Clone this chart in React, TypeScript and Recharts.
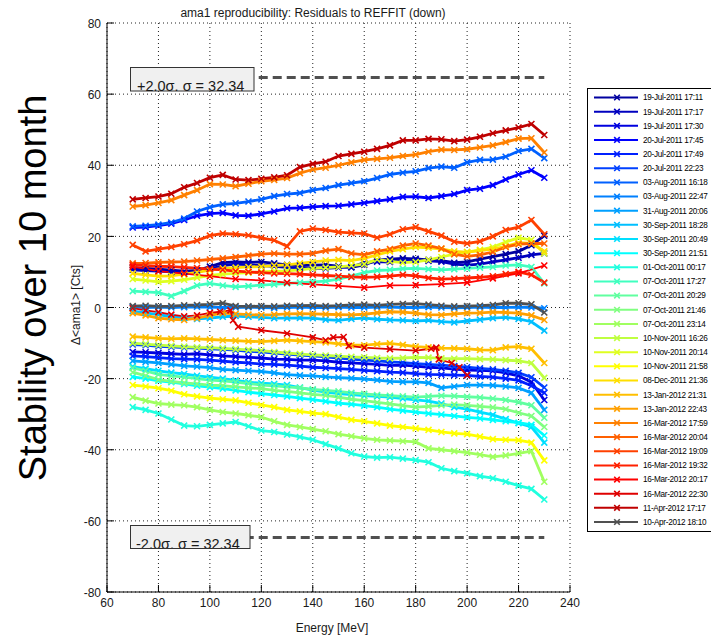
import { CartesianGrid, Legend, Line, LineChart, ReferenceLine, XAxis, YAxis } from 'recharts'

document.body.style.margin = '0'

const FONT = '"Liberation Sans", Arial, Helvetica, sans-serif'

// common energy grid of the scans [MeV]
const energy = [70, 75, 80, 85, 90, 95, 100, 105, 110, 115, 120, 125, 130, 135, 140, 145, 150, 155, 160, 165, 170, 175, 180, 185, 190, 195, 200, 205, 210, 215, 220, 225, 230]

const xTicks = [60, 80, 100, 120, 140, 160, 180, 200, 220, 240]
const yTicks = [-80, -60, -40, -20, 0, 20, 40, 60, 80]

const sigma = 32.34
const sigmaLimit = 64.68

const labels = [
	'19-Jul-2011 17:11', '19-Jul-2011 17:17', '19-Jul-2011 17:30',
	'20-Jul-2011 17:45', '20-Jul-2011 17:49', '20-Jul-2011 22:23',
	'03-Aug-2011 16:18', '03-Aug-2011 22:47', '31-Aug-2011 20:06',
	'30-Sep-2011 18:28', '30-Sep-2011 20:49', '30-Sep-2011 21:51',
	'01-Oct-2011 00:17', '07-Oct-2011 17:27', '07-Oct-2011 20:29',
	'07-Oct-2011 21:46', '07-Oct-2011 23:14', '10-Nov-2011 16:26',
	'10-Nov-2011 20:14', '10-Nov-2011 21:58', '08-Dec-2011 21:36',
	'13-Jan-2012 21:31', '13-Jan-2012 22:43', '16-Mar-2012 17:59',
	'16-Mar-2012 20:04', '16-Mar-2012 19:09', '16-Mar-2012 19:32',
	'16-Mar-2012 20:17', '16-Mar-2012 22:30', '11-Apr-2012 17:17',
	'10-Apr-2012 18:10',
]

// jet(30) + grey for the reference run
const colors = [
	'#0000A0', '#0000BF', '#0000DF', '#0000FF', '#0020FF', '#0040FF',
	'#0060FF', '#0080FF', '#00A0FF', '#00BFFF', '#00DFFF', '#00FFFF',
	'#20FFDF', '#40FFBF', '#60FFA0', '#80FF80', '#A0FF60', '#BFFF40',
	'#DFFF20', '#FFFF00', '#FFDF00', '#FFBF00', '#FFA000', '#FF8000',
	'#FF6000', '#FF4000', '#FF2000', '#FF0000', '#DF0000', '#BF0000',
	'#505050',
]

// residuals [Cts] on the common grid
const r01 = [11.2, 11.0, 10.8, 10.5, 10.2, 10.4, 11.5, 12.6, 12.8, 12.7, 12.8, 12.4, 12.0, 11.8, 11.9, 12.0, 11.6, 11.3, 12.0, 13.3, 13.6, 13.8, 13.7, 13.4, 13.2, 12.6, 12.8, 13.6, 14.3, 15.0, 15.8, 17.5, 20.2]
const r02 = [10.6, 10.4, 10.2, 10.0, 9.9, 10.0, 10.8, 11.8, 12.2, 12.0, 11.8, 11.6, 11.3, 11.2, 11.0, 11.0, 11.2, 11.4, 12.6, 12.9, 12.8, 13.2, 13.4, 13.1, 12.9, 12.2, 11.9, 12.2, 12.8, 13.4, 14.0, 14.8, 15.2]
const r03 = [-12.5, -12.6, -12.8, -13.0, -13.2, -13.0, -13.3, -13.6, -13.8, -14.0, -14.2, -14.5, -14.6, -14.8, -14.8, -15.0, -15.4, -15.6, -15.8, -16.0, -16.3, -16.2, -16.5, -16.8, -17.0, -17.3, -17.6, -17.7, -17.8, -18.4, -19.2, -21.0, -26.0]
const r04 = [22.5, 22.6, 23.0, 23.6, 24.6, 25.8, 26.4, 26.6, 25.9, 25.8, 26.3, 27.0, 27.9, 28.0, 28.3, 28.5, 28.6, 29.0, 29.4, 29.9, 30.4, 31.1, 31.2, 30.8, 31.3, 31.9, 33.0, 33.4, 34.4, 36.0, 37.4, 38.6, 36.5]
const r05 = [-13.6, -13.8, -14.1, -14.4, -14.5, -14.6, -14.8, -15.1, -15.4, -15.6, -15.9, -16.0, -16.2, -16.5, -16.8, -17.0, -17.2, -17.4, -17.7, -17.9, -18.2, -18.3, -18.6, -18.8, -18.9, -19.0, -19.1, -19.4, -19.6, -20.0, -20.5, -22.0, -24.0]
const r06 = [-10.4, -10.6, -10.9, -11.1, -11.3, -11.4, -11.6, -11.8, -12.0, -12.3, -12.5, -12.8, -13.1, -13.4, -13.6, -13.9, -14.2, -14.5, -14.8, -15.0, -15.3, -15.5, -15.8, -16.0, -16.2, -16.5, -16.8, -17.1, -17.4, -17.8, -18.4, -19.6, -22.5]
const r07 = [22.8, 23.0, 23.3, 23.9, 25.0, 27.0, 28.2, 29.0, 29.3, 29.8, 30.4, 31.3, 31.9, 32.2, 33.0, 33.6, 34.4, 35.0, 35.5, 36.4, 37.4, 37.9, 38.3, 39.2, 39.6, 39.3, 40.8, 41.5, 41.6, 42.4, 44.0, 44.6, 42.0]
const r08 = [0.1, 0.0, 0.1, 0.0, 0.1, 0.2, 0.1, 0.0, 0.0, 0.1, 0.0, -0.1, 0.0, 0.1, 0.0, 0.0, 0.1, 0.0, 0.0, 0.1, 0.1, 0.0, 0.0, 0.1, 0.0, -0.1, 0.0, 0.1, 0.0, 0.0, 0.1, 0.0, -0.2]
const r09 = [-15.0, -15.3, -15.6, -16.0, -16.4, -16.6, -16.9, -17.4, -17.6, -17.8, -18.0, -18.4, -18.9, -19.1, -19.2, -19.5, -19.7, -19.9, -20.1, -20.4, -20.8, -20.9, -20.9, -21.2, -22.6, -22.2, -21.8, -21.8, -21.9, -22.2, -22.6, -24.0, -28.8]
const r10 = [-1.0, -1.5, -2.0, -2.6, -3.0, -3.2, -3.0, -2.6, -2.4, -2.6, -2.8, -3.0, -3.0, -2.9, -3.0, -3.4, -3.6, -3.2, -3.0, -3.3, -3.5, -3.6, -3.8, -3.6, -4.0, -4.2, -3.8, -3.4, -3.0, -2.8, -3.2, -4.0, -6.5]
const r11 = [-16.6, -17.2, -17.8, -18.3, -18.7, -19.2, -19.6, -20.0, -20.5, -21.0, -21.3, -21.5, -21.8, -22.5, -23.2, -23.8, -24.2, -24.5, -24.8, -25.0, -25.2, -25.6, -26.0, -26.3, -27.0, -28.0, -28.6, -29.4, -30.2, -31.4, -32.5, -33.6, -38.0]
const r12 = [-19.5, -20.0, -20.6, -21.0, -21.5, -22.0, -22.4, -22.8, -23.3, -23.8, -24.2, -24.6, -25.0, -25.5, -25.9, -26.4, -26.9, -27.2, -27.6, -28.0, -28.6, -29.0, -29.4, -29.8, -30.1, -30.5, -30.9, -31.2, -31.6, -32.0, -32.4, -33.0, -36.0]
const r13 = [-28.0, -28.8, -29.8, -31.5, -33.2, -33.4, -33.0, -32.6, -32.2, -33.4, -34.6, -35.0, -35.7, -36.4, -37.2, -38.4, -39.6, -41.0, -41.9, -42.2, -42.1, -42.5, -42.9, -43.5, -45.2, -46.0, -46.6, -47.4, -48.0, -49.0, -50.1, -51.0, -54.0]
const r14 = [4.6, 4.4, 4.2, 3.2, 4.6, 6.2, 6.8, 6.2, 5.8, 6.0, 6.3, 6.5, 6.8, 7.0, 7.2, 7.4, 8.0, 8.8, 9.8, 10.4, 10.6, 10.9, 11.0, 10.8, 10.6, 10.8, 11.0, 11.2, 11.4, 11.8, 12.0, 11.4, 6.8]
const r15 = [-17.0, -17.8, -18.8, -19.2, -19.6, -20.0, -20.4, -20.6, -21.0, -21.4, -21.8, -22.0, -22.3, -22.6, -23.0, -23.3, -23.6, -24.0, -24.3, -24.6, -24.8, -25.0, -25.2, -25.0, -24.8, -24.9, -25.1, -25.3, -25.6, -26.0, -26.6, -27.5, -31.0]
const r16 = [-18.2, -19.2, -20.3, -20.8, -21.2, -21.5, -21.8, -22.0, -22.3, -22.6, -22.8, -23.3, -23.6, -24.0, -24.4, -24.7, -25.2, -25.8, -26.2, -26.7, -27.1, -27.6, -28.0, -27.8, -27.5, -27.3, -27.5, -27.8, -28.1, -28.6, -29.6, -30.5, -33.6]
const r17 = [-25.2, -26.2, -27.0, -27.3, -27.5, -28.0, -28.8, -29.4, -29.8, -30.3, -30.8, -32.0, -33.0, -33.6, -34.2, -34.8, -35.6, -36.2, -36.8, -37.2, -37.4, -37.6, -37.8, -39.6, -40.0, -40.4, -40.8, -41.4, -42.0, -41.6, -41.0, -40.4, -49.0]
const r18 = [-10.0, -10.3, -10.6, -10.8, -11.0, -11.2, -11.3, -11.5, -11.7, -11.9, -12.1, -12.5, -12.8, -13.1, -13.3, -13.5, -13.7, -13.9, -14.0, -14.2, -14.3, -14.2, -14.0, -14.1, -14.3, -14.4, -14.4, -14.5, -14.6, -14.8, -15.0, -15.6, -19.8]
const r19 = [8.0, 7.6, 7.2, 7.4, 7.8, 8.4, 9.0, 9.4, 9.6, 9.8, 10.0, 10.2, 10.3, 10.6, 11.0, 11.2, 11.4, 11.8, 12.2, 13.5, 13.0, 12.6, 12.8, 13.4, 14.2, 15.0, 15.6, 16.2, 17.0, 18.4, 19.6, 19.0, 15.2]
const r20 = [-21.8, -22.2, -22.7, -23.4, -24.4, -25.0, -25.5, -25.8, -26.1, -26.8, -27.4, -28.0, -28.8, -29.2, -29.7, -30.0, -30.8, -31.6, -32.0, -32.6, -33.2, -33.6, -34.0, -34.4, -35.0, -35.4, -35.6, -36.3, -37.0, -37.2, -37.3, -38.0, -43.0]
const r21 = [9.6, 9.2, 8.8, 8.9, 9.4, 9.9, 10.5, 11.0, 11.2, 11.4, 11.5, 11.8, 12.0, 12.4, 12.8, 13.2, 13.4, 13.2, 13.8, 14.8, 15.8, 16.4, 17.0, 16.8, 16.5, 15.8, 15.6, 16.0, 16.4, 17.2, 18.2, 18.0, 15.8]
const r22 = [-8.2, -8.4, -8.7, -8.8, -8.7, -8.8, -9.0, -9.2, -9.3, -9.5, -9.6, -9.4, -9.2, -9.4, -9.6, -9.8, -10.2, -10.6, -10.6, -10.3, -10.1, -10.5, -11.0, -11.2, -11.4, -11.5, -11.6, -11.9, -12.0, -11.2, -11.0, -11.6, -15.6]
const r23 = [-1.6, -2.2, -3.0, -3.3, -3.5, -3.0, -2.2, -1.6, -1.8, -2.0, -2.1, -2.0, -1.8, -1.7, -1.8, -1.9, -2.0, -2.1, -1.9, -1.5, -1.2, -1.3, -1.6, -2.0, -2.1, -1.8, -1.6, -1.5, -1.3, -1.4, -1.6, -2.2, -3.5]
const r24 = [28.4, 28.8, 29.4, 30.2, 31.6, 33.0, 34.7, 34.6, 34.1, 34.8, 35.5, 35.9, 36.4, 37.8, 38.8, 39.3, 40.0, 40.8, 41.5, 41.8, 42.1, 42.6, 43.0, 43.8, 44.4, 44.3, 44.5, 45.0, 45.6, 46.5, 47.5, 47.6, 43.6]
const r25 = [12.4, 12.5, 12.7, 12.8, 12.9, 13.2, 13.5, 13.8, 14.2, 14.6, 15.0, 15.2, 15.0, 15.0, 15.2, 16.0, 16.4, 15.2, 14.8, 15.8, 16.4, 17.4, 18.0, 17.4, 16.6, 15.0, 14.4, 14.8, 15.6, 17.0, 17.8, 18.0, 18.0]
const r26 = [17.6, 15.8, 16.4, 17.0, 17.8, 18.8, 20.2, 20.8, 20.6, 20.3, 19.6, 18.9, 17.2, 21.4, 22.2, 21.8, 21.2, 21.0, 20.8, 19.6, 20.6, 22.0, 22.6, 21.4, 20.2, 18.5, 18.0, 18.6, 20.0, 21.8, 22.6, 24.6, 20.6]
const r27 = [12.0, 11.8, 11.6, 11.5, 11.3, 11.1, 10.8, 10.6, 10.2, 10.0, 9.8, 9.6, 9.5, 9.4, 9.2, 9.0, 8.8, 8.6, 8.5, 8.6, 8.8, 9.2, 8.9, 8.3, 8.0, 8.1, 8.3, 8.5, 8.8, 9.4, 10.0, 9.2, 7.0]
// two sparse scans with their own energies
const r28Energy = [70, 80, 90, 100, 110, 120, 130, 140, 150, 160, 170, 180, 190, 200, 210, 220, 230]
const r28 = [11.5, 10.2, 9.5, 8.8, 8.0, 7.6, 7.0, 6.5, 6.1, 5.6, 6.2, 6.3, 6.6, 7.0, 8.2, 9.6, 11.8]
const r29Energy = [70, 75, 80, 85, 90, 95, 100, 104, 108, 109, 111, 120, 130, 140, 145, 148, 152, 154, 160, 170, 180, 186, 188, 189, 194, 197, 200]
const r29 = [-0.2, -0.8, -1.3, -2.0, -2.5, -2.2, -1.5, -1.2, -0.8, -3.6, -5.4, -6.4, -7.3, -8.4, -9.2, -8.4, -8.3, -10.8, -11.3, -11.7, -12.1, -11.6, -11.3, -14.6, -15.6, -16.8, -19.0]
const r30 = [30.4, 30.8, 31.2, 32.0, 33.8, 35.0, 36.5, 37.3, 36.0, 35.8, 36.2, 36.6, 37.2, 39.5, 40.4, 41.0, 42.6, 43.2, 43.8, 44.6, 45.6, 47.0, 47.0, 47.4, 47.3, 46.8, 47.2, 48.0, 49.0, 49.8, 50.6, 51.6, 48.5]
const r31 = [0.4, 0.5, 0.3, 0.4, 0.6, 0.7, 0.9, 1.2, 0.4, 0.3, 0.4, 0.3, 0.5, 0.5, 0.6, 0.4, 0.5, 0.7, 0.8, 0.6, 0.9, 1.0, 1.1, 0.8, 0.5, 0.3, 0.4, 0.5, 0.7, 1.2, 1.2, 0.9, -1.4]

const residuals = [
	r01, r02, r03, r04, r05, r06, r07, r08, r09, r10, r11, r12, r13, r14, r15, r16,
	r17, r18, r19, r20, r21, r22, r23, r24, r25, r26, r27, r28, r29, r30, r31,
]
const ownEnergy: Record<number, number[]> = { 27: r28Energy, 28: r29Energy }

const table = energy.map((e, i) => {
	const row: Record<string, number> = { e }
	residuals.forEach((vals, k) => {
		if (!ownEnergy[k]) row['s' + k] = vals[i]
	})
	return row
})

const crossPath = (x: number, y: number, r: number) =>
	`M${x - r},${y - r}L${x + r},${y + r}M${x - r},${y + r}L${x + r},${y - r}`

const crossDot = (color: string, r: number) => (p: any) => {
	const { cx, cy, index } = p
	if (cx == null || cy == null) return <g key={index} />
	return <path key={index} d={crossPath(cx, cy, r)} stroke={color} strokeWidth={1.6} fill='none' />
}

const YTick = ({ x, y, payload }: any) => (
	<g>
		<line x1={x + 6} x2={x + 13} y1={y} y2={y} stroke='#000' />
		<text x={x} y={y + 1} dy='0.35em' textAnchor='end' fontSize={12} fontFamily={FONT} fill='#1a1a1a'>
			{payload.value}
		</text>
	</g>
)

const XTick = ({ x, y, payload }: any) => (
	<g>
		<line x1={x} x2={x} y1={y - 6} y2={y - 13} stroke='#000' />
		<text x={x} y={y} dy='0.71em' textAnchor='middle' fontSize={12} fontFamily={FONT} fill='#1a1a1a'>
			{payload.value}
		</text>
	</g>
)

const LegendBox = () => (
	<svg width={124} height={444} style={{ display: 'block' }}>
		<rect x={0.5} y={0.5} width={140} height={443} fill='#fff' stroke='#000' />
		{labels.map((label, i) => {
			const y = 9.5 + i * 14.15
			return (
				<g key={label}>
					<line x1={7} x2={51} y1={y} y2={y} stroke={colors[i]} strokeWidth={2} />
					<path d={crossPath(30, y, 2.8)} stroke={colors[i]} strokeWidth={1.6} fill='none' />
					<text
						x={56}
						y={y}
						dy='0.35em'
						fontSize={8.2}
						letterSpacing={-0.3}
						fontFamily={FONT}
						fill='#000'
					>
						{label}
					</text>
				</g>
			)
		})}
	</svg>
)

export default function App() {
	return (
		<div style={{ position: 'relative', width: 711, height: 638, overflow: 'hidden', background: '#fff' }}>
			<LineChart width={711} height={638} data={table} margin={{ top: 23, right: 141, bottom: 0, left: 0 }}>
				<CartesianGrid stroke='#222' strokeDasharray='1 3' />
				<XAxis
					type='number'
					dataKey='e'
					domain={[60, 240]}
					ticks={xTicks}
					height={46}
					tickSize={0}
					tickMargin={6}
					tick={<XTick />}
					axisLine={{ stroke: '#000' }}
					allowDataOverflow
				/>
				<YAxis
					type='number'
					domain={[-80, 80]}
					ticks={yTicks}
					width={107}
					tickSize={0}
					tickMargin={6}
					tick={<YTick />}
					axisLine={{ stroke: '#000' }}
					allowDataOverflow
				/>
				{residuals.map((vals, k) => {
					const own = ownEnergy[k]
					const sparse = !!own
					return (
						<Line
							key={labels[k]}
							type='linear'
							dataKey={'s' + k}
							data={own ? own.map((e, i) => ({ e, ['s' + k]: vals[i] })) : undefined}
							stroke={colors[k]}
							strokeWidth={sparse ? 1.8 : 2.8}
							dot={crossDot(colors[k], sparse ? 3 : 3)}
							activeDot={false}
							isAnimationActive={false}
						/>
					)
				})}
				<ReferenceLine
					segment={[{ x: 70, y: sigmaLimit }, { x: 230, y: sigmaLimit }]}
					stroke='#505050'
					strokeWidth={3}
					strokeDasharray='9 5'
				/>
				<ReferenceLine
					segment={[{ x: 70, y: -sigmaLimit }, { x: 230, y: -sigmaLimit }]}
					stroke='#505050'
					strokeWidth={3}
					strokeDasharray='9 5'
				/>
				<Legend
					layout='vertical'
					align='center'
					verticalAlign='middle'
					content={<LegendBox />}
					wrapperStyle={{ left: 587, top: 88, width: 124, height: 444 }}
				/>
			</LineChart>
			<svg
				width={711}
				height={638}
				style={{ position: 'absolute', left: 0, top: 0, pointerEvents: 'none' }}
			>
				<defs>
					<clipPath id='boxTop'>
						<rect x={131} y={68} width={123} height={23} />
					</clipPath>
					<clipPath id='boxBottom'>
						<rect x={131} y={526} width={119} height={22} />
					</clipPath>
				</defs>
				<text x={313} y={13} dy='0.35em' textAnchor='middle' fontSize={12} fontFamily={FONT} fill='#1a1a1a'>
					ama1 reproducibility: Residuals to REFFIT (down)
				</text>
				<text x={332} y={628} dy='0.35em' textAnchor='middle' fontSize={12} fontFamily={FONT} fill='#1a1a1a'>
					Energy [MeV]
				</text>
				<text
					transform='translate(76 305) rotate(-90)'
					dy='0.35em'
					textAnchor='middle'
					fontSize={12}
					fontFamily={FONT}
					fill='#1a1a1a'
				>
					{'Δ<ama1> [Cts]'}
				</text>
				<text
					transform='translate(33 288) rotate(-90)'
					dy='0.35em'
					textAnchor='middle'
					fontSize={38}
					fontFamily={FONT}
					fill='#000'
				>
					Stability over 10 month
				</text>
				<rect x={130.5} y={67.5} width={123.5} height={23.5} fill='#f0f0f0' stroke='#333' />
				<text x={137} y={91} fontSize={14.5} fontFamily={FONT} fill='#1a1a1a' clipPath='url(#boxTop)'>
					{`+2.0σ,  σ = ${sigma}`}
				</text>
				<rect x={130.5} y={525.5} width={119.5} height={23} fill='#f0f0f0' stroke='#333' />
				<text x={136} y={549} fontSize={14.5} fontFamily={FONT} fill='#1a1a1a' clipPath='url(#boxBottom)'>
					{`-2.0σ,  σ = ${sigma}`}
				</text>
			</svg>
		</div>
	)
}
